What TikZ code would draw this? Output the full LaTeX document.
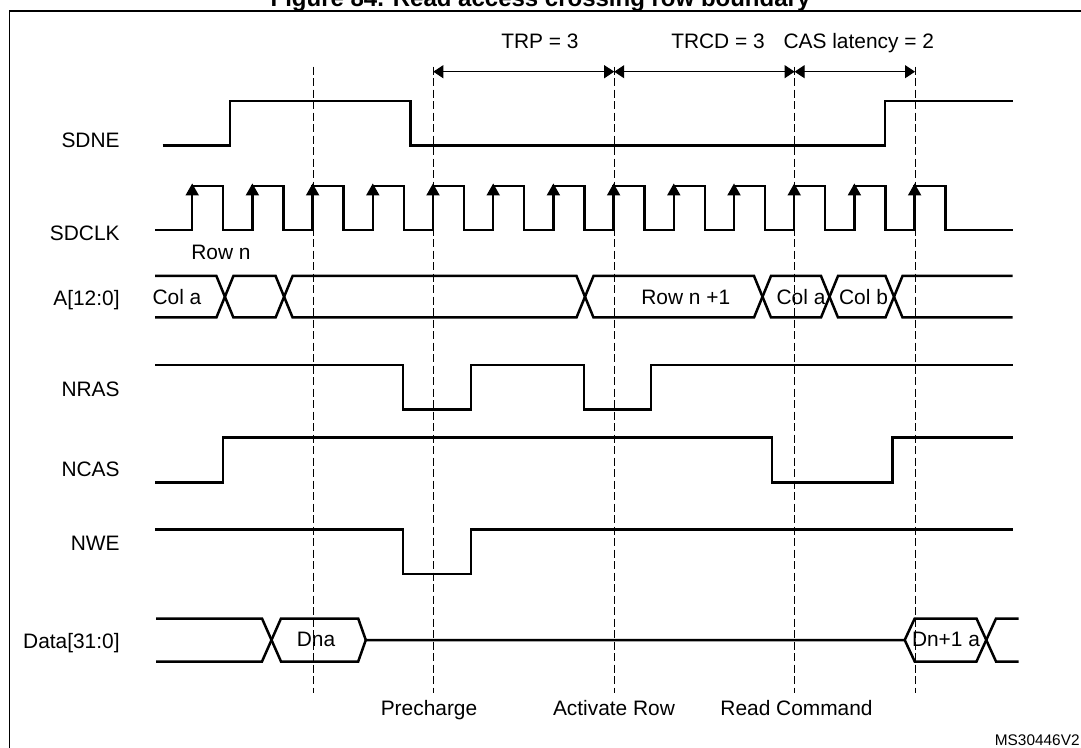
\documentclass[tikz,border=0pt]{standalone}
\usepackage{fontspec}
\setmainfont{Liberation Sans}
\usetikzlibrary{arrows.meta}
\tikzset{
  sig/.style={line width=1.25pt},
  guide/.style={line width=0.5pt, dash pattern=on 4pt off 1.75pt},
  span/.style={line width=0.5pt, {Triangle[length=5pt,width=6.5pt]}-{Triangle[length=5pt,width=6.5pt]}},
  lbl/.style={anchor=base east, inner sep=0pt},
  txt/.style={anchor=base, inner sep=0pt}
}
\begin{document}
\begin{tikzpicture}[x=0.5pt,y=-0.5pt,font=\fontsize{10.45}{12}\selectfont]
    \useasboundingbox (0,0) rectangle (1081,748);
    \draw[line width=0.85pt] (9.6,11) rectangle (1095,765);
    \node[txt,font=\bfseries\fontsize{12}{14}\selectfont] (title) at (540.5,6.5) {Figure 84. Read access crossing row boundary};
    % guide lines
    \coordinate (dna) at (313.4,66.7);
    \coordinate (pre) at (433.3,66.7);
    \coordinate (act) at (614.2,66.7);
    \coordinate (rd) at (794.6,66.7);
    \coordinate (dn) at (915,66.7);
    \foreach \g in {dna,pre,act,rd,dn}
        \draw[guide] (\g) -- ++(0,626);
    % timing spans
    \draw[span] ([yshift=-2.5pt]pre) -- ([yshift=-2.5pt]act);
    \draw[span] ([yshift=-2.5pt]act) -- ([yshift=-2.5pt]rd);
    \draw[span] ([yshift=-2.5pt]rd) -- ([yshift=-2.5pt]dn);
    \node[txt] (trp) at (540,48.3) {TRP = 3};
    \node[txt] (trcd) at (718,48.3) {TRCD = 3};
    \node[txt] (cas) at (858.8,48.3) {CAS latency = 2};
    % signal names
    \node[lbl] (sdne) at (120,147.7) {SDNE};
    \node[lbl] (sdclk) at (120,240.8) {SDCLK};
    \node[lbl] (addr) at (120,305.5) {A[12:0]};
    \node[lbl] (nras) at (120,396.7) {NRAS};
    \node[lbl] (ncas) at (120,476) {NCAS};
    \node[lbl] (nwe) at (120,550) {NWE};
    \node[lbl] (data) at (120,648) {Data[31:0]};
    % SDNE
    \draw[sig] (162.5,145.7) -- (230,145.7) -- (230,101) -- (410.5,101) -- (410.5,145.7)
        -- (885,145.7) -- (885,101) -- (1012.7,101);
    % SDCLK
    \draw[sig] (155,230) \foreach \k in {0,...,12}{
        -- ({192.2+60.2*\k},230) -- ++(0,-44) -- ++(31,0) -- ++(0,44)} -- (1012.7,230);
    \foreach \k in {0,...,12}
        \fill ({192.2+60.2*\k},183.5) -- ++(-6.8,12) -- ++(13.6,0) -- cycle;
    % A[12:0]
    \draw[sig] (155,276) -- (216.4,276) -- (233.4,317.5) -- (275.6,317.5) -- (292.6,276)
        -- (576.5,276) -- (593.5,317.5) -- (754,317.5) -- (771,276) -- (821,276)
        -- (838,317.5) -- (885.5,317.5) -- (902.5,276) -- (1012.7,276);
    \draw[sig] (155,317.5) -- (216.4,317.5) -- (233.4,276) -- (275.6,276) -- (292.6,317.5)
        -- (576.5,317.5) -- (593.5,276) -- (754,276) -- (771,317.5) -- (821,317.5)
        -- (838,276) -- (885.5,276) -- (902.5,317.5) -- (1012.7,317.5);
    \node[txt] (cola) at (177,305) {Col a};
    \node[txt] (rown) at (221,260) {Row n};
    \node[txt] (rownn) at (685.8,305) {Row n +1};
    \node[txt] (colaa) at (801,305) {Col a};
    \node[txt] (colb) at (863.5,305) {Col b};
    % NRAS
    \draw[sig] (155,365) -- (403,365) -- (403,409.5) -- (471,409.5) -- (471,365)
        -- (583.8,365) -- (583.8,409.5) -- (651,409.5) -- (651,365) -- (1012.7,365);
    % NCAS
    \draw[sig] (155,482.3) -- (222.8,482.3) -- (222.8,437.3) -- (771.8,437.3)
        -- (771.8,482.3) -- (892.6,482.3) -- (892.6,437.3) -- (1012.7,437.3);
    % NWE
    \draw[sig] (155,529.3) -- (403,529.3) -- (403,574) -- (471,574) -- (471,529.3) -- (1012.7,529.3);
    % Data[31:0]
    \draw[sig] (156,618.5) -- (262,618.5) -- (281,661.5) -- (358.2,661.5) -- (365.8,640)
        -- (904.7,640) -- (914.7,618.5) -- (976.5,618.5) -- (996,661.5) -- (1018.5,661.5);
    \draw[sig] (156,661.5) -- (262,661.5) -- (281,618.5) -- (358.2,618.5) -- (365.8,640);
    \draw[sig] (904.7,640) -- (914.7,661.5) -- (976.5,661.5) -- (996,618.5) -- (1018.5,618.5);
    \node[txt] (dna) at (316,646.5) {Dna};
    \node[txt] (dnn) at (946,646.5) {Dn+1 a};
    % commands
    \node[txt] (prech) at (429,715) {Precharge};
    \node[txt] (actrow) at (614,715) {Activate Row};
    \node[txt] (rdcmd) at (796.5,715) {Read Command};
    \node[anchor=base east,inner sep=0pt,font=\fontsize{7.7}{9}\selectfont] (ref) at (1080,745) {MS30446V2};
\end{tikzpicture}
\end{document}
